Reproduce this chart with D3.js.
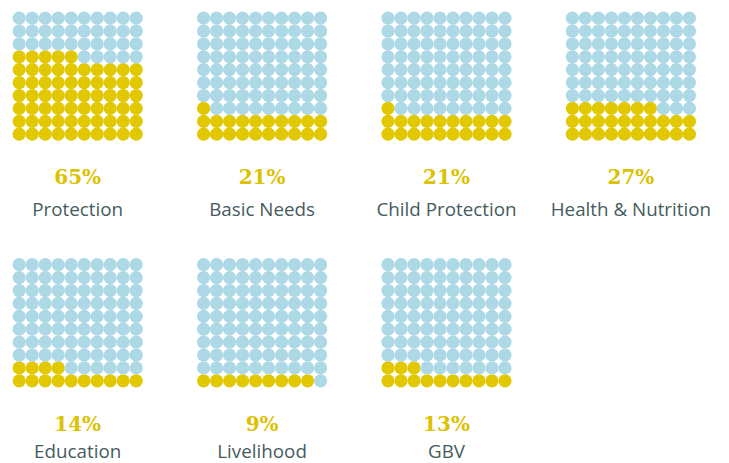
<!DOCTYPE html>
<html>
<head>
<meta charset="utf-8">
<script src="https://cdn.jsdelivr.net/npm/d3@7"></script>
<style>
  html, body { margin: 0; padding: 0; background: #ffffff; }
  svg { display: block; }
</style>
</head>
<body>
<svg id="chart" width="729" height="463"></svg>
<script>
// Share of each sector, shown as a 10 x 10 waffle of dots
const categories = ["Protection", "Basic Needs", "Child Protection", "Health & Nutrition",
                    "Education", "Livelihood", "GBV"];
const percentages = [65, 21, 21, 27, 14, 9, 13];

const gridSize = 10;          // dots per side
const panelsPerRow = 4;

const colorFilled = "#e1c800";
const colorEmpty = "#add8e6";
const colorPercent = "#dcc100";
const colorLabel = "#465b5d";

const svg = d3.select("#chart");

// Panel placement
const panelX = d3.scaleLinear().domain([0, 1]).range([12.7, 12.7 + 184.4]);
const panelY = d3.scaleLinear().domain([0, 1]).range([11.7, 11.7 + 246.6]);
// Category label baselines per panel row (second row sits tight to the bottom edge)
const labelOffset = [204, 199.5];

// Dot placement inside one panel (column index left→right, row index bottom→top)
const dotX = d3.scaleLinear().domain([0, gridSize - 1]).range([6.5, 6.5 + 13 * (gridSize - 1)]);
const dotY = d3.scaleLinear().domain([0, gridSize - 1]).range([122.5, 122.5 - 12.9 * (gridSize - 1)]);
const dotR = 6.6;
const gridWidth = 13 * gridSize;

const panels = svg.selectAll("g.panel")
  .data(categories.map((name, i) => ({
    name,
    value: percentages[i],
    col: i % panelsPerRow,
    row: Math.floor(i / panelsPerRow)
  })))
  .join("g")
  .attr("class", "panel")
  .attr("transform", d => `translate(${panelX(d.col)},${panelY(d.row)})`);

// Dots fill row by row from the bottom, left to right
panels.selectAll("circle")
  .data(d => d3.range(gridSize * gridSize).map(k => ({
    col: k % gridSize,
    row: Math.floor(k / gridSize),
    filled: k < d.value
  })))
  .join("circle")
  .attr("cx", d => dotX(d.col))
  .attr("cy", d => dotY(d.row))
  .attr("r", dotR)
  .attr("fill", d => d.filled ? colorFilled : colorEmpty);

panels.append("text")
  .attr("x", gridWidth / 2)
  .attr("y", 172.3)
  .attr("text-anchor", "middle")
  .attr("font-family", "'DejaVu Serif', serif")
  .attr("font-weight", "bold")
  .attr("font-size", 20)
  .attr("fill", colorPercent)
  .text(d => d.value + "%");

panels.append("text")
  .attr("x", gridWidth / 2)
  .attr("y", d => labelOffset[d.row])
  .attr("text-anchor", "middle")
  .attr("font-family", "'Open Sans', sans-serif")
  .attr("font-size", 18.8)
  .attr("fill", colorLabel)
  .text(d => d.name);
</script>
</body>
</html>
